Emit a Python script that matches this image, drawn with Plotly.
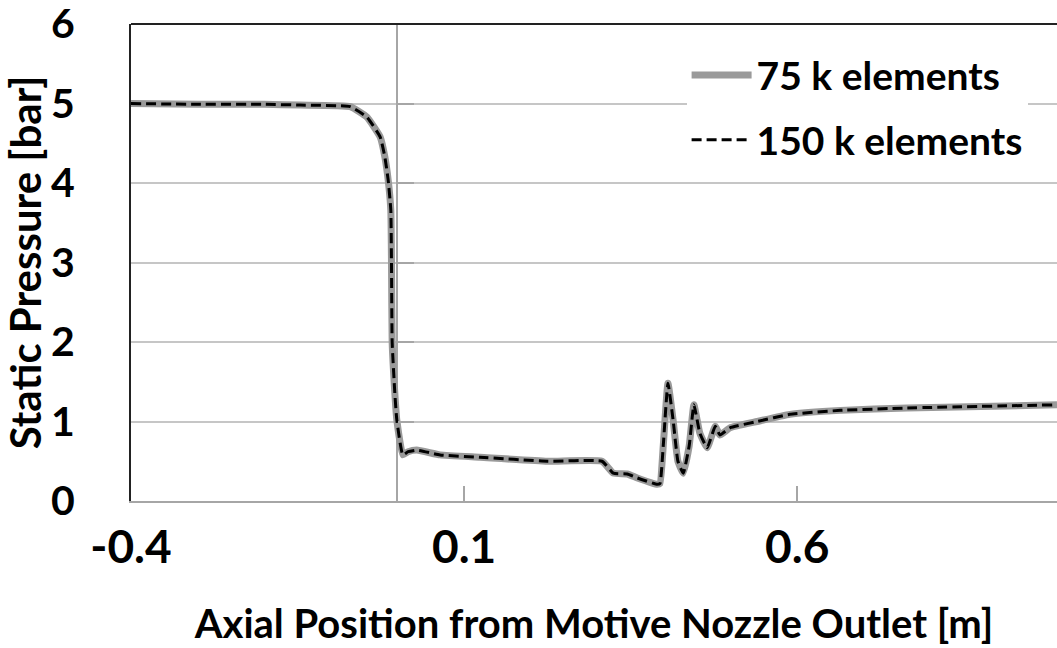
import plotly.graph_objects as go

# Axial position [m] and static pressure [bar]
x_pos = [-0.4, -0.3, -0.2, -0.146, -0.071, -0.046, -0.026, -0.019, -0.014, -0.010,
         -0.009, -0.008, -0.004, -0.001, 0.008, 0.016, 0.029, 0.064, 0.124, 0.225,
         0.307, 0.324, 0.345, 0.360, 0.390, 0.394, 0.399, 0.406, 0.414, 0.421,
         0.429, 0.438, 0.445, 0.454, 0.465, 0.477, 0.484, 0.499, 0.540, 0.589,
         0.665, 0.765, 0.990]
p_75k = [5.0, 4.99, 4.99, 4.98, 4.96, 4.83, 4.58, 4.33, 4.04, 3.66,
         3.0, 2.0, 1.36, 1.02, 0.58, 0.62, 0.64, 0.58, 0.55, 0.50,
         0.50, 0.35, 0.34, 0.29, 0.21, 0.22, 0.70, 1.48, 1.00, 0.50,
         0.35, 0.70, 1.21, 0.85, 0.67, 0.94, 0.83, 0.92, 1.00, 1.09,
         1.14, 1.17, 1.21]
p_150k = list(p_75k)

series_names = ["75 k elements", "150 k elements"]
x_ticks = [-0.4, 0.1, 0.6]
y_ticks = [0, 1, 2, 3, 4, 5, 6]

FONT = "Lato"
x_min, x_max = -0.4, 0.99
y_min, y_max = 0, 6

fig = go.Figure()
fig.add_trace(go.Scatter(x=x_pos, y=p_75k, name=series_names[0], mode="lines",
                         legendgroup="a",
                         line=dict(color="#9a9a9a", width=7, shape="spline", smoothing=0.4)))
fig.add_trace(go.Scatter(x=x_pos, y=p_150k, name=series_names[1], mode="lines",
                         legendgroup="b",
                         line=dict(color="#000000", width=3, dash="10px,5px",
                                   shape="spline", smoothing=0.4)))
# empty trace so the axis crossing at x = 0 (yaxis2) is drawn
fig.add_trace(go.Scatter(x=[None], y=[None], yaxis="y2", showlegend=False,
                         hoverinfo="skip", mode="lines"))

fig.update_layout(
    width=1057, height=648,
    margin=dict(l=131, r=0, t=24, b=147, autoexpand=False),
    paper_bgcolor="white", plot_bgcolor="white",
    font=dict(family=FONT, color="black"),
    showlegend=True,
    legend=dict(x=0.600, y=0.96, xanchor="left", yanchor="top",
                bgcolor="white", font=dict(size=39, family=FONT, weight="bold"),
                itemwidth=60, tracegroupgap=11),
    xaxis=dict(range=[x_min, x_max], tickvals=x_ticks,
               ticktext=[f"{v:g}" for v in x_ticks],
               showgrid=False, automargin=False, ticklabeloverflow="allow",
               zeroline=True, zerolinecolor="#a6a6a6", zerolinewidth=2,
               showline=True, linecolor="#a6a6a6", linewidth=2,
               ticks="inside", ticklen=15, tickwidth=2, tickcolor="#a6a6a6",
               tickfont=dict(size=46, family=FONT, weight="bold"),
               ticklabelstandoff=5,
               title=dict(text="Axial Position from Motive Nozzle Outlet [m]",
                          font=dict(size=40, family=FONT, weight="bold"), standoff=38)),
    yaxis=dict(range=[y_min, y_max], tickvals=y_ticks, showgrid=True, gridcolor="#c6c6c6",
               gridwidth=2, zeroline=False, automargin=True, ticklabeloverflow="allow",
               showline=True, linecolor="#222222", linewidth=2,
               ticks="", tickfont=dict(size=41, family=FONT, weight="bold"),
               ticklabelstandoff=46,
               title=dict(text="Static Pressure [bar]",
                          font=dict(size=42, family=FONT, weight="bold"))),
    yaxis2=dict(range=[y_min, y_max], overlaying="y", anchor="free",
                position=(0 - x_min) / (x_max - x_min), side="left",
                tickvals=y_ticks, showticklabels=False, showgrid=False, zeroline=False,
                automargin=False, showline=False,
                ticks="inside", ticklen=16, tickwidth=2, tickcolor="#a6a6a6"),
    shapes=[dict(type="line", xref="paper", yref="paper", x0=0, x1=1, y0=1, y1=1,
                 line=dict(color="#222222", width=2))],
)
fig.write_html("out.html", config={"displayModeBar": False},
               post_script="document.body.style.margin='0px';")
